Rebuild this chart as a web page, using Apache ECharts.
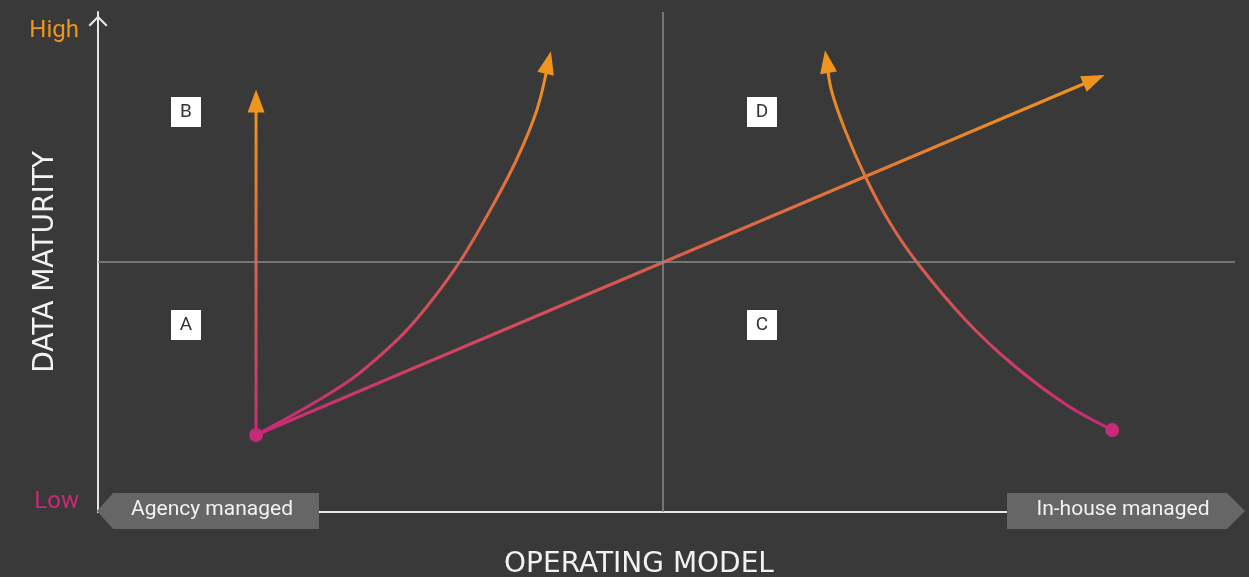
<!DOCTYPE html>
<html>
<head>
<meta charset="utf-8">
<title>Data maturity vs operating model</title>
<script src="https://cdn.jsdelivr.net/npm/echarts@6/dist/echarts.min.js"></script>
<style>
  html, body { margin: 0; padding: 0; background: #393939; }
  #chart { width: 1249px; height: 577px; }
</style>
</head>
<body>
<div id="chart"></div>
<script>
// both axes run 0..100 (operating model / data maturity)
const stayAgencyPath = [[13.9, 15.4], [13.9, 82.2]];
const curveUpPath = [[13.9, 15.4], [21.8, 25.8], [26.3, 34.4], [28.9, 41.0], [31.8, 50.0],
  [34.5, 60.4], [36.8, 70.4], [38.6, 80.4], [39.6, 89.9]];
const straightPath = [[13.9, 15.4], [87.6, 86.5]];
const comeBackPath = [[89.2, 16.4], [85.2, 21.4], [80.5, 29.4], [76.3, 38.4], [72.0, 50.0],
  [69.5, 58.4], [67.5, 67.0], [65.7, 76.4], [64.5, 84.4], [64.1, 90.1]];

const quadrantNames = ['A', 'B', 'C', 'D'];
const quadrantX = [7.74, 7.74, 58.4, 58.4];
const quadrantY = [37.4, 80, 37.4, 80];

const yTickValues = [2.0, 96.2];
const yTickLabels = ['Low', 'High'];
const midX = 49.7;
const midY = 50;
const endLabels = ['Agency managed', 'In-house managed'];

const PINK = '#C72A76';
const ORANGE = '#EE951F';
const BOX = '#666666';

const chart = echarts.init(document.getElementById('chart'));

const baseOption = {
  animation: false,
  backgroundColor: '#393939',
  grid: { left: 98, right: 14, top: 12, bottom: 65, outerBoundsMode: 'none', containLabel: false },
  xAxis: {
    type: 'value', min: 0, max: 100,
    name: 'OPERATING MODEL', nameLocation: 'middle', nameGap: 39, nameMoveOverlap: false,
    nameTextStyle: { color: '#f2f2f2', fontSize: 28, fontFamily: 'DejaVu Sans', padding: [0, 55, 0, 0] },
    axisLine: { show: true, onZero: false, lineStyle: { color: '#e6e6e6', width: 2 } },
    axisTick: { show: false }, axisLabel: { show: false }, splitLine: { show: false }
  },
  yAxis: {
    type: 'value', min: 0, max: 100,
    name: 'DATA MATURITY', nameLocation: 'middle', nameGap: 38, nameRotate: 90, nameMoveOverlap: false,
    nameTextStyle: { color: '#f2f2f2', fontSize: 28, fontFamily: 'DejaVu Sans' },
    axisLine: {
      show: true, onZero: false,
      symbol: ['none', 'path://M0,10 L10,0 L20,10 L18.4,11.6 L10,3.2 L1.6,11.6 Z'],
      symbolSize: [19, 12], symbolOffset: [0, -9],
      lineStyle: { color: '#e6e6e6', width: 2 }
    },
    axisTick: { show: false }, splitLine: { show: false },
    axisLabel: {
      customValues: yTickValues, margin: 19,
      formatter: (v) => {
        const i = yTickValues.findIndex((t) => Math.abs(t - v) < 0.01);
        if (i < 0) return '';
        return i === 0 ? '{lo|' + yTickLabels[i] + '}' : '{hi|' + yTickLabels[i] + '}';
      },
      rich: {
        lo: { color: PINK, fontSize: 24, fontFamily: 'Roboto' },
        hi: { color: ORANGE, fontSize: 24, fontFamily: 'Roboto' }
      }
    }
  },
  series: []
};
chart.setOption(baseOption);

const toPx = (p) => chart.convertToPixel({ gridIndex: 0 }, p);

function arrowSeries(name, path, withDot) {
  const a = toPx(path[path.length - 2]);
  const b = toPx(path[path.length - 1]);
  const rot = -Math.atan2(b[0] - a[0], a[1] - b[1]) * 180 / Math.PI;
  const y0 = toPx(path[0])[1];
  const data = path.map((p, i) => {
    if (i === 0) {
      return { value: p, symbol: withDot ? 'circle' : 'none', symbolSize: 14, itemStyle: { color: PINK } };
    }
    if (i === path.length - 1) {
      return { value: p, symbol: 'triangle', symbolSize: [17, 23], symbolRotate: rot, itemStyle: { color: ORANGE } };
    }
    return { value: p, symbol: 'none' };
  });
  return {
    name, type: 'line', data, z: 3, silent: true,
    smooth: path.length > 2 ? 0.35 : false,
    emphasis: { disabled: true },
    lineStyle: {
      width: 3,
      color: new echarts.graphic.LinearGradient(0, y0, 0, b[1],
        [{ offset: 0, color: PINK }, { offset: 1, color: ORANGE }], true)
    }
  };
}

chart.setOption({
  series: [
    {
      name: 'Quadrants', type: 'scatter', z: 1, silent: true,
      symbol: 'rect', symbolSize: 30,
      itemStyle: { color: '#ffffff', opacity: 1 },
      label: { show: true, position: 'inside', formatter: '{b}', color: '#333333', fontSize: 19, fontFamily: 'Roboto' },
      data: quadrantNames.map((n, i) => ({ name: n, value: [quadrantX[i], quadrantY[i]] })),
      markLine: {
        silent: true, symbol: ['none', 'none'], label: { show: false },
        lineStyle: { color: '#8a8a8a', width: 1.5, type: 'solid' },
        data: [{ xAxis: midX }, { yAxis: midY }]
      }
    },
    arrowSeries('Stay agency', stayAgencyPath, false),
    arrowSeries('Curve up', curveUpPath, false),
    arrowSeries('Straight', straightPath, true),
    arrowSeries('Come back', comeBackPath, true)
  ],
  graphic: [
    { type: 'polygon', z: 100, shape: { points: [[97, 511], [113, 493], [319, 493], [319, 529], [113, 529]] }, style: { fill: BOX } },
    { type: 'text', z: 101, x: 212, y: 510, style: { text: endLabels[0], fill: '#f2f2f2', fontSize: 21, fontFamily: 'Roboto', align: 'center', verticalAlign: 'middle' } },
    { type: 'polygon', z: 100, shape: { points: [[1007, 493], [1227, 493], [1245, 511], [1227, 529], [1007, 529]] }, style: { fill: BOX } },
    { type: 'text', z: 101, x: 1123, y: 510, style: { text: endLabels[1], fill: '#f2f2f2', fontSize: 21, fontFamily: 'Roboto', align: 'center', verticalAlign: 'middle' } }
  ]
});

window.addEventListener('resize', () => chart.resize());
</script>
</body>
</html>
